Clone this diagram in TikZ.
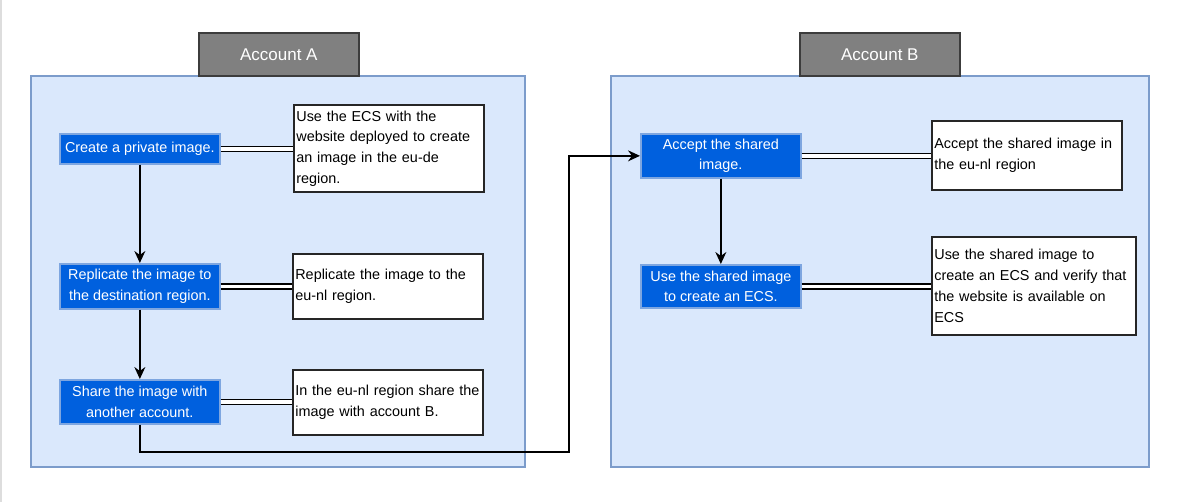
\documentclass[tikz,border=0pt]{standalone}
\usepackage{fontspec}
\setmainfont{Liberation Sans}
\usetikzlibrary{arrows.meta}
\definecolor{contfill}{HTML}{DAE8FC}
\definecolor{contdraw}{HTML}{7C9CCB}
\definecolor{hdrfill}{HTML}{808080}
\definecolor{hdrdraw}{HTML}{3C3C3C}
\definecolor{stepfill}{HTML}{0060DE}
\definecolor{stepdraw}{HTML}{7EA6E0}
\definecolor{edgegray}{HTML}{DDDDDD}
\tikzset{
  container/.style={draw=contdraw, fill=contfill, line width=1.7pt, anchor=north west, inner sep=0pt},
  header/.style={draw=hdrdraw, fill=hdrfill, line width=1.7pt, text=white, font=\fontsize{17}{20}\selectfont, anchor=north west, inner sep=0pt},
  stepbox/.style={draw=stepdraw, fill=stepfill, line width=1.7pt, text=white, font=\fontsize{14.4}{20.5}\selectfont, align=center, anchor=north west, inner sep=0pt},
  note/.style={draw=black!85, fill=white, line width=1.7pt, font=\fontsize{14.4}{20.7}\selectfont, align=left, anchor=north west, inner xsep=2.5pt, inner ysep=0pt},
  dbl/.style={draw=black, line width=1.4pt, double=white, double distance=3.6pt},
  arr/.style={draw=black, line width=1.5pt, -{Stealth[length=12pt, width=11pt, inset=4pt]}},
}
\begin{document}
\begin{tikzpicture}[x=1pt, y=-1pt]
\useasboundingbox (0,0) rectangle (1200,502);
\fill[edgegray] (0,0) rectangle (2,502);
% containers
\node[container, minimum width=494pt, minimum height=391pt] (contA) at (30,75) {};
\node[container, minimum width=538pt, minimum height=391pt] (contB) at (610,75) {};
\node[header, minimum width=160pt, minimum height=43pt] (hdrA) at (198,32) {Account A};
\node[header, minimum width=160pt, minimum height=43pt] (hdrB) at (799,32) {Account B};
% steps account A
\node[stepbox, minimum width=160pt, minimum height=30pt] (create) at (59,133) {Create a private image.};
\node[stepbox, minimum width=160pt, minimum height=45pt] (replicate) at (59,263) {Replicate the image to\\the destination region.};
\node[stepbox, minimum width=160pt, minimum height=44pt] (share) at (59,379) {Share the image with\\another account.};
% steps account B
\node[stepbox, minimum width=160pt, minimum height=44pt] (accept) at (640,133) {Accept the shared\\image.};
\node[stepbox, minimum width=160pt, minimum height=43pt] (use) at (640,264) {Use the shared image\\to create an ECS.};
% notes
\node[note, text width=185pt, minimum height=87pt] (note1) at (293,104) {Use the ECS with the\\website deployed to create\\an image in the eu-de\\region.};
\node[note, text width=185pt, minimum height=65pt] (note2) at (292,253) {Replicate the image to the\\eu-nl region.};
\node[note, text width=185pt, minimum height=65pt] (note3) at (292,369) {In the eu-nl region share the\\image with account B.};
\node[note, text width=185pt, minimum height=69pt] (note4) at (931,120) {Accept the shared image in\\the eu-nl region};
\node[note, text width=199pt, minimum height=98pt] (note5) at (931,236) {Use the shared image to\\create an ECS and verify that\\the website is available on\\ECS};
% double links
\draw[dbl] (create.east) -- (create.east -| note1.west);
\draw[dbl] (replicate.east) -- (replicate.east -| note2.west);
\draw[dbl] (share.east) -- (share.east -| note3.west);
\draw[dbl] (accept.east) -- (accept.east -| note4.west);
\draw[dbl] (use.east) -- (use.east -| note5.west);
% arrows
\coordinate (bend) at (569,452);
\draw[arr] (create.south) -- (replicate.north);
\draw[arr] (replicate.south) -- (share.north);
\draw[arr] (share.south) |- (bend) |- (accept.west);
\draw[arr] (accept.south) -- (use.north);
\end{tikzpicture}
\end{document}
